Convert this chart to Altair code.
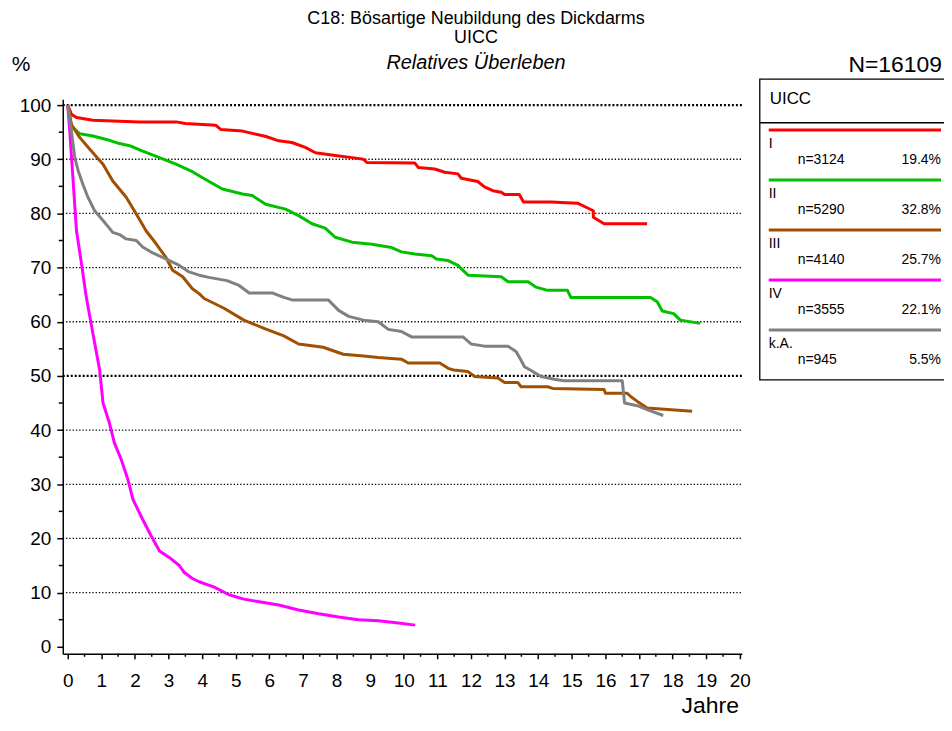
import altair as alt
import pandas as pd

# ---------------- data ----------------
series_names = ["I", "II", "III", "IV", "k.A."]
series_colors = ["#FF0000", "#00C000", "#A05000", "#FF00FF", "#808080"]
series_n = ["n=3124", "n=5290", "n=4140", "n=3555", "n=945"]
series_pct = ["19.4%", "32.8%", "25.7%", "22.1%", "5.5%"]

red_t = [0, 0.11, 0.26, 0.75, 2.13, 3.22, 3.5, 4.4, 4.55, 5.2, 5.9, 6.28, 6.67, 7.07, 7.37, 7.96,
         8.46, 8.8, 8.9, 10.33, 10.43, 10.92, 11.22, 11.61, 11.71, 12.2, 12.4, 12.65, 12.9, 13.0,
         13.44, 13.56, 14.38, 15.17, 15.47, 15.64, 15.64, 15.96, 17.24]
red_v = [100, 98.3, 97.7, 97.2, 96.9, 96.9, 96.6, 96.3, 95.5, 95.2, 94.2, 93.4, 93.1, 92.2, 91.2, 90.7,
         90.3, 90.0, 89.4, 89.3, 88.5, 88.2, 87.6, 87.3, 86.5, 85.9, 84.9, 84.2, 83.9, 83.5,
         83.5, 82.1, 82.1, 81.9, 81.0, 80.5, 79.3, 78.1, 78.1]

green_t = [0, 0.11, 0.36, 0.75, 1.24, 1.54, 1.84, 2.23, 2.73, 3.22, 3.71, 4.01, 4.6, 5.2, 5.49, 5.89,
           6.48, 6.87, 7.27, 7.66, 7.96, 8.46, 9.05, 9.64, 9.93, 10.33, 10.83, 10.97, 11.32, 11.61,
           11.91, 12.9, 13.1, 13.7, 13.93, 14.28, 14.87, 14.97, 17.34, 17.54, 17.69, 18.03, 18.23, 18.82]
green_v = [100, 96.1, 94.7, 94.3, 93.5, 92.9, 92.5, 91.5, 90.3, 89.1, 87.7, 86.6, 84.5, 83.6, 83.3, 81.7,
           80.8, 79.6, 78.1, 77.3, 75.6, 74.7, 74.3, 73.7, 72.9, 72.5, 72.2, 71.6, 71.3, 70.4,
           68.6, 68.3, 67.4, 67.4, 66.4, 65.8, 65.8, 64.5, 64.5, 63.7, 62.0, 61.5, 60.3, 59.7]

brown_t = [0, 0.11, 0.36, 0.65, 1.05, 1.34, 1.74, 2.04, 2.33, 2.63, 2.92, 3.12, 3.42, 3.71, 3.91, 4.06,
           4.65, 5.24, 5.84, 6.43, 6.87, 7.6, 8.2, 8.8, 9.24, 9.93, 10.13, 11.07, 11.32, 11.48, 11.91,
           12.11, 12.8, 13.0, 13.39, 13.49, 14.28, 14.43, 15.96, 16.0, 16.65, 16.75, 16.95, 17.24, 18.58]
brown_v = [100, 96.4, 94.0, 91.9, 89.1, 86.0, 83.0, 79.9, 76.8, 74.4, 71.9, 69.5, 68.3, 66.1, 65.2, 64.3,
           62.5, 60.3, 58.8, 57.4, 55.9, 55.3, 54.0, 53.7, 53.4, 53.1, 52.4, 52.4, 51.4, 51.1, 50.8,
           49.9, 49.6, 48.8, 48.8, 48.0, 48.0, 47.7, 47.5, 46.8, 46.8, 46.2, 45.3, 44.1, 43.5]

mag_t = [0, 0.06, 0.16, 0.26, 0.41, 0.55, 0.75, 0.95, 1.05, 1.24, 1.39, 1.59, 1.79, 1.94, 2.23, 2.48,
         2.73, 3.02, 3.32, 3.47, 3.71, 3.91, 4.36, 4.8, 5.24, 5.7, 6.28, 6.87, 7.47, 8.06, 8.65, 9.24,
         9.84, 10.34]
mag_v = [100, 95.2, 86.0, 76.8, 70.7, 64.6, 57.8, 51.1, 45.0, 41.3, 37.6, 34.6, 30.9, 27.2, 23.5, 20.5,
         17.7, 16.5, 15.0, 13.7, 12.6, 12.0, 11.0, 9.6, 8.8, 8.3, 7.7, 6.8, 6.1, 5.5, 5.0, 4.8,
         4.4, 4.0]

gray_t = [0, 0.11, 0.21, 0.31, 0.45, 0.6, 0.8, 1.05, 1.34, 1.54, 1.74, 2.04, 2.23, 2.53, 2.92, 3.32,
          3.61, 3.91, 4.2, 4.74, 5.1, 5.4, 6.1, 6.43, 6.7, 7.76, 8.06, 8.36, 8.8, 9.24, 9.54, 9.93,
          10.23, 11.76, 12.0, 12.4, 13.1, 13.34, 13.49, 13.59, 13.79, 14.08, 14.48, 14.77, 16.5, 16.57,
          16.95, 17.24, 17.72]
gray_v = [100, 95.2, 90.3, 87.9, 85.4, 83.0, 80.5, 78.7, 76.5, 76.1, 75.3, 75.0, 73.8, 72.7, 71.6, 70.4,
          69.2, 68.6, 68.2, 67.6, 66.7, 65.3, 65.3, 64.5, 64.0, 64.0, 62.1, 61.0, 60.3, 60.0, 58.6, 58.2,
          57.2, 57.2, 55.9, 55.5, 55.5, 54.5, 52.9, 51.7, 51.0, 49.9, 49.4, 49.1, 49.1, 45.0,
          44.5, 43.8, 42.7]

x_ticks = list(range(0, 21))
x_minor = [i + 0.5 for i in range(0, 20)]
y_ticks = list(range(0, 101, 10))
y_minor = list(range(5, 100, 10))
grid_vals = list(range(10, 101, 10))
grid_bold = [50, 100]

# ---------------- build ----------------
W, H = 682, 557
FONT = "Liberation Sans"

all_t = [red_t, green_t, brown_t, mag_t, gray_t]
all_v = [red_v, green_v, brown_v, mag_v, gray_v]

xs = alt.Scale(domain=[-0.148, 20.06], nice=False, zero=False)
ys = alt.Scale(domain=[-1.29, 101.1], nice=False, zero=False)

x_axis = alt.Axis(values=x_ticks, tickSize=5, labelFontSize=19, labelPadding=13, title=None,
                  grid=False, domainColor="black", domainWidth=1.5, tickColor="black",
                  tickWidth=1.5, labelColor="black", labelFont=FONT, labelFlush=False)
y_axis = alt.Axis(values=y_ticks, tickSize=6, labelFontSize=19, labelPadding=6, title=None,
                  grid=False, domainColor="black", domainWidth=1.5, tickColor="black",
                  tickWidth=1.5, labelColor="black", labelFont=FONT)

layers = []

# grid lines
grid_df = pd.DataFrame({"g": grid_vals, "bold": [g in grid_bold for g in grid_vals]})
grid_thin = alt.Chart(grid_df).transform_filter("!datum.bold").mark_rule(
    color="black", strokeWidth=1.3, strokeDash=[1.3, 2]).encode(
    y=alt.Y("g:Q", scale=ys, axis=y_axis), x=alt.value(0), x2=alt.value(W))
grid_thick = alt.Chart(grid_df).transform_filter("datum.bold").mark_rule(
    color="black", strokeWidth=2.2, strokeDash=[2, 2]).encode(
    y=alt.Y("g:Q", scale=ys, axis=y_axis), x=alt.value(0), x2=alt.value(W))
layers += [grid_thin, grid_thick]

# minor ticks
xm = alt.Chart(pd.DataFrame({"m": x_minor})).mark_rule(color="black", strokeWidth=1.5).encode(
    x=alt.X("m:Q", scale=xs, axis=x_axis), y=alt.value(H), y2=alt.value(H + 3))
ym = alt.Chart(pd.DataFrame({"m": y_minor})).mark_rule(color="black", strokeWidth=1.5).encode(
    y=alt.Y("m:Q", scale=ys, axis=y_axis), x=alt.value(0), x2=alt.value(-4))
layers += [xm, ym]

# survival curves
for name, col, ts, vs in zip(series_names, series_colors, all_t, all_v):
    df = pd.DataFrame({"t": ts, "v": vs, "i": list(range(len(ts)))})
    layers.append(alt.Chart(df).mark_line(color=col, strokeWidth=3, strokeJoin="round").encode(
        x=alt.X("t:Q", scale=xs, axis=x_axis),
        y=alt.Y("v:Q", scale=ys, axis=y_axis),
        order="i:Q"))

# texts
def txt(s, x, y, size, align="center", style="normal", baseline="middle"):
    return alt.Chart(pd.DataFrame({"a": [0]})).mark_text(
        text=s, font=FONT, fontSize=size, align=align, baseline=baseline,
        fontStyle=style, color="black").encode(x=alt.value(x), y=alt.value(y))

layers += [
    txt("C18: Bösartige Neubildung des Dickdarms", 415, -80, 18),
    txt("UICC", 415, -61, 18),
    txt("Relatives Überleben", 415, -36, 20, style="italic"),
    txt("%", -42, -34, 21),
    txt("N=16109", 883, -34, 23, align="right"),
    txt("Jahre", 679, 616, 23, align="right", baseline="alphabetic"),
]

# legend box
box = alt.Chart(pd.DataFrame({"a": [0]})).mark_rect(
    fill="white", fillOpacity=0, stroke="black", strokeWidth=1.3).encode(
    x=alt.value(700), x2=alt.value(900), y=alt.value(-20), y2=alt.value(282))
sep = alt.Chart(pd.DataFrame({"a": [0]})).mark_rule(color="black", strokeWidth=1.3).encode(
    x=alt.value(700), x2=alt.value(900), y=alt.value(23.7))
layers += [box, sep, txt("UICC", 710, 0, 17, align="left")]

for k, (lab, col, n, pct) in enumerate(zip(series_names, series_colors, series_n, series_pct)):
    ly = 31 + 50.2 * k
    layers.append(alt.Chart(pd.DataFrame({"a": [0]})).mark_rule(color=col, strokeWidth=3).encode(
        x=alt.value(709), x2=alt.value(882), y=alt.value(ly)))
    layers.append(txt(lab, 709, ly + 14, 14, align="left"))
    layers.append(txt(n, 738, ly + 30, 14, align="left"))
    layers.append(txt(pct, 882, ly + 30, 14, align="right"))

chart = alt.layer(*layers).properties(
    width=W, height=H,
    autosize=alt.AutoSizeParams(type="none"),
    padding={"left": 55, "top": 90, "right": 203, "bottom": 68},
).configure(background="white").configure_view(stroke=None)

chart.save("out.html", embed_options={"renderer": "svg", "actions": False})
